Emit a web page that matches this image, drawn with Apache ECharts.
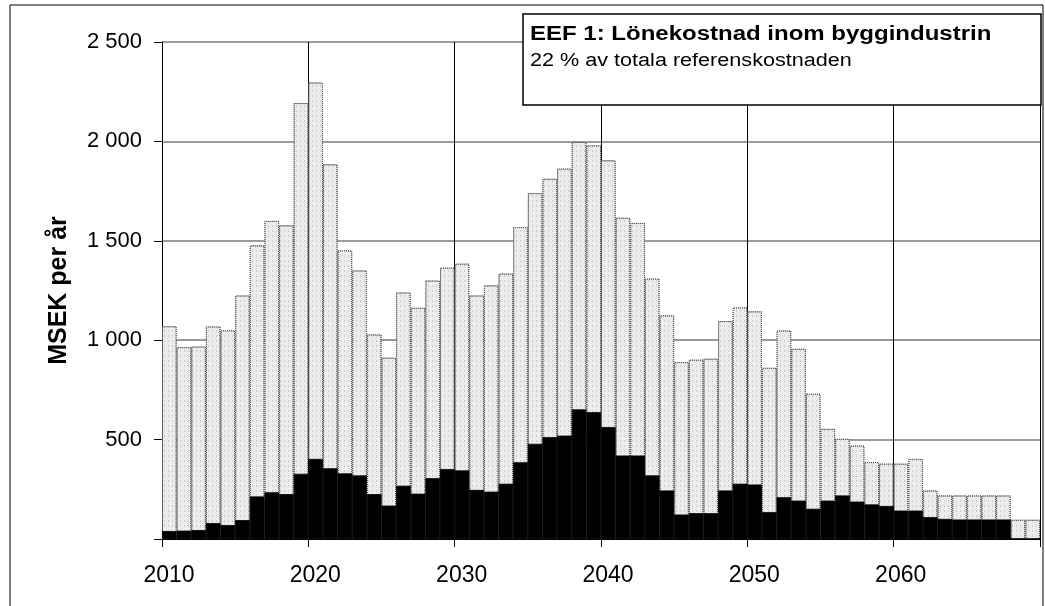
<!DOCTYPE html>
<html>
<head>
<meta charset="utf-8">
<script src="https://cdn.jsdelivr.net/npm/echarts@6/dist/echarts.min.js"></script>
<style>
html,body{margin:0;padding:0;background:#fff;}
#chart{width:1045px;height:606px;}
</style>
</head>
<body>
<div id="chart"></div>
<script>
// Years 2010..2069
const years = [2010,2011,2012,2013,2014,2015,2016,2017,2018,2019,
  2020,2021,2022,2023,2024,2025,2026,2027,2028,2029,
  2030,2031,2032,2033,2034,2035,2036,2037,2038,2039,
  2040,2041,2042,2043,2044,2045,2046,2047,2048,2049,
  2050,2051,2052,2053,2054,2055,2056,2057,2058,2059,
  2060,2061,2062,2063,2064,2065,2066,2067,2068,2069];

// Total (stippled grey bars), MSEK per år
const totalValues = [1070,965,968,1069,1050,1225,1477,1600,1578,2193,
  2296,1885,1452,1351,1029,912,1240,1163,1300,1365,
  1385,1225,1276,1335,1569,1740,1812,1863,1997,1980,
  1905,1616,1590,1310,1125,890,902,907,1096,1165,
  1145,861,1049,957,731,554,504,470,387,379,
  379,403,244,219,219,219,219,219,97,97];

// Black bars, MSEK per år
const blackValues = [40,42,45,80,70,95,214,235,226,328,
  403,356,330,320,226,168,268,228,306,352,
  345,247,238,278,386,479,512,520,652,638,
  563,420,420,320,244,123,130,130,244,278,
  274,135,210,193,152,193,219,188,174,166,
  143,143,110,101,98,98,98,98,0,0];

const yTicks = [0,500,1000,1500,2000,2500];
const xTickYears = [2010,2020,2030,2040,2050,2060,2070];

const titleLine1 = 'EEF 1: Lönekostnad inom byggindustrin';
const titleLine2 = '22 % av totala referenskostnaden';
const yAxisTitle = 'MSEK per år';

const FONT = '"Liberation Sans", Arial, sans-serif';

function fmtThousands(v){
  return String(v).replace(/\B(?=(\d{3})+(?!\d))/g, '\u00a0');
}

const chart = echarts.init(document.getElementById('chart'), null, {renderer:'canvas'});
chart.setOption({
  animation: false,
  backgroundColor: '#fff',
  textStyle: {fontFamily: FONT, color: '#000'},
  grid: {left: 162, right: 5, top: 42, bottom: 67, containLabel: false},
  xAxis: [
    {
      type: 'category',
      data: years.map(String),
      boundaryGap: true,
      show: false
    },
    {
      type: 'value',
      min: xTickYears[0],
      max: xTickYears[xTickYears.length-1],
      interval: 10,
      position: 'bottom',
      axisLine: {show: true, onZero: false, lineStyle: {color: '#000', width: 1}},
      axisTick: {show: true, length: 8, lineStyle: {color: '#000', width: 1}},
      axisLabel: {
        show: true, fontSize: 23, color: '#000', fontFamily: FONT, margin: 25,
        padding: [0,0,0,14],
        formatter: v => (v === 2070 ? '' : String(v))
      },
      splitLine: {show: true, lineStyle: {color: '#000', width: 1}}
    }
  ],
  yAxis: {
    type: 'value',
    min: yTicks[0],
    max: yTicks[yTicks.length-1],
    interval: 500,
    name: yAxisTitle,
    nameLocation: 'middle',
    nameGap: 90,
    nameRotate: 90,
    nameMoveOverlap: false,
    nameTextStyle: {fontSize: 25, fontWeight: 'bold', color: '#000', fontFamily: FONT},
    axisLine: {show: true, lineStyle: {color: '#000', width: 1}},
    axisTick: {show: true, length: 8, lineStyle: {color: '#000', width: 1}},
    axisLabel: {
      fontSize: 22, color: '#000', fontFamily: FONT, margin: 20,
      formatter: v => (v === 0 ? '' : fmtThousands(v))
    },
    splitLine: {show: true, lineStyle: {color: '#7a7a7a', width: 1.5}}
  },
  series: [
    {
      type: 'bar',
      name: 'Total',
      xAxisIndex: 0,
      data: totalValues,
      barWidth: '100%',
      barGap: '-100%',
      barCategoryGap: 0,
      itemStyle: {
        color: '#ececec',
        borderColor: '#555',
        borderWidth: 1,
        borderType: 'dotted',
        decal: {
          symbol: 'rect',
          symbolSize: 0.6,
          color: 'rgba(0,0,0,0.45)',
          dashArrayX: [1, 3],
          dashArrayY: [2, 3],
          rotation: 0
        }
      },
      emphasis: {disabled: true},
      z: 2
    },
    {
      type: 'bar',
      name: 'Svart',
      xAxisIndex: 0,
      data: blackValues,
      barWidth: '100%',
      barGap: '-100%',
      barCategoryGap: 0,
      itemStyle: {color: '#000', borderColor: '#000', borderWidth: 0.8},
      emphasis: {disabled: true},
      z: 3
    }
  ],
  graphic: [
    {
      type: 'rect',
      silent: true,
      z: 0,
      shape: {x: 10, y: 5, width: 1033, height: 612},
      style: {fill: 'none', stroke: '#000', lineWidth: 1}
    },
    {
      type: 'rect',
      silent: true,
      z: 100,
      shape: {x: 523, y: 14, width: 518, height: 91},
      style: {fill: '#fff', stroke: '#000', lineWidth: 1.5}
    },
    {
      type: 'text',
      silent: true,
      z: 101,
      x: 530, y: 34,
      scaleX: 1.2,
      style: {text: titleLine1, font: 'bold 20px ' + FONT, fill: '#000', textVerticalAlign: 'middle', verticalAlign: 'middle'}
    },
    {
      type: 'text',
      silent: true,
      z: 101,
      x: 530, y: 61,
      scaleX: 1.2,
      style: {text: titleLine2, font: '18px ' + FONT, fill: '#000', textVerticalAlign: 'middle', verticalAlign: 'middle'}
    }
  ]
});
</script>
</body>
</html>
